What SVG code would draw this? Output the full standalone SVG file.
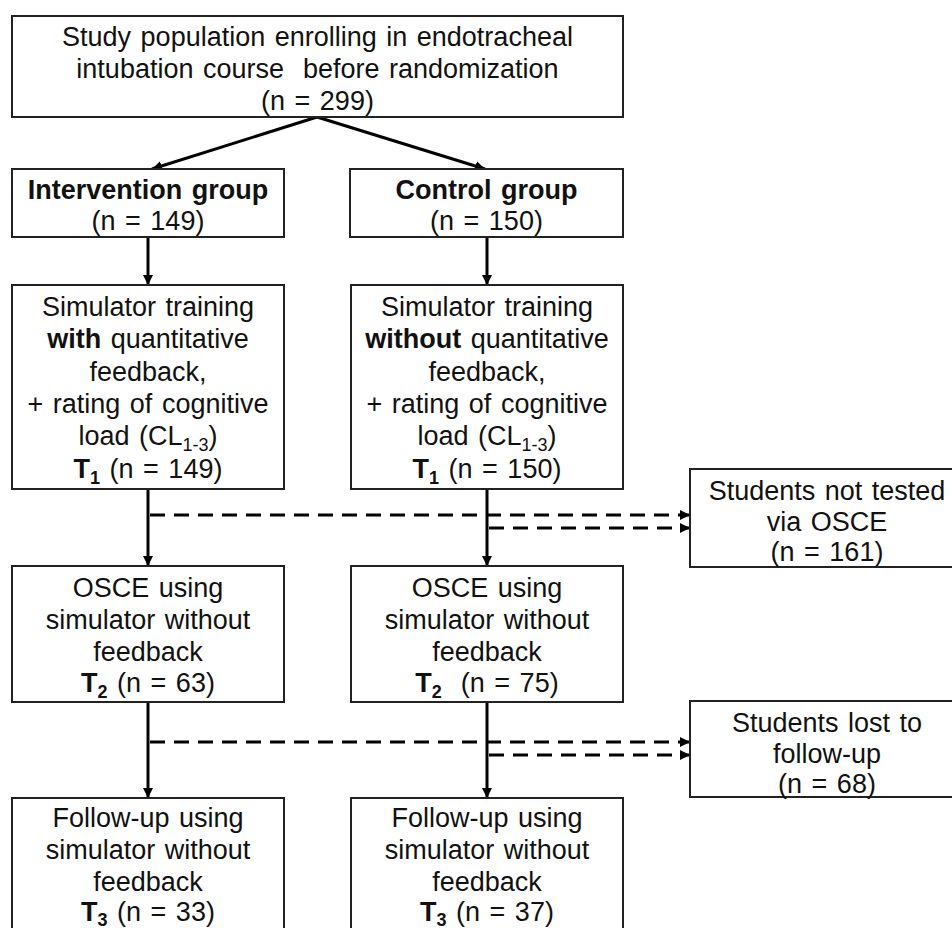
<svg xmlns="http://www.w3.org/2000/svg" width="952" height="928" viewBox="0 0 952 928">
<defs>
<marker id="ah" viewBox="0 0 10 10" refX="10" refY="5" markerWidth="10" markerHeight="10" markerUnits="userSpaceOnUse" orient="auto">
<path d="M0,0 L10,5 L0,10 z" fill="#000"/>
</marker>
<style>
.box{fill:#fff;stroke:#222;stroke-width:2}
text{font-family:"Liberation Sans",Arial,sans-serif;font-size:27px;word-spacing:2px;fill:#111;text-anchor:middle}
.b{font-weight:bold}
.sub{font-size:18px}
.solid{stroke:#000;stroke-width:3;fill:none}
.dash{stroke:#000;stroke-width:3;fill:none;stroke-dasharray:15 9}
</style>
</defs>
<rect width="952" height="928" fill="#fff"/>

<g id="connectors">
<line class="solid" x1="317" y1="117" x2="152" y2="169" marker-end="url(#ah)"/>
<line class="solid" x1="317" y1="117" x2="485" y2="169" marker-end="url(#ah)"/>
<line class="solid" x1="148" y1="237" x2="148" y2="285" marker-end="url(#ah)"/>
<line class="solid" x1="487" y1="237" x2="487" y2="285" marker-end="url(#ah)"/>
<line class="solid" x1="148" y1="489" x2="148" y2="566" marker-end="url(#ah)"/>
<line class="solid" x1="487" y1="489" x2="487" y2="566" marker-end="url(#ah)"/>
<line class="solid" x1="148" y1="702" x2="148" y2="798" marker-end="url(#ah)"/>
<line class="solid" x1="487" y1="702" x2="487" y2="798" marker-end="url(#ah)"/>
<line class="dash" x1="150" y1="515" x2="690" y2="515" marker-end="url(#ah)"/>
<line class="dash" x1="489" y1="528" x2="690" y2="528" marker-end="url(#ah)"/>
<line class="dash" x1="150" y1="742" x2="690" y2="742" marker-end="url(#ah)"/>
<line class="dash" x1="489" y1="755" x2="690" y2="755" marker-end="url(#ah)"/>
</g>

<g id="population">
<rect class="box" x="12" y="16" width="611" height="101"/>
<text x="317.5" y="46">Study population enrolling in endotracheal</text>
<text x="317.5" y="78" style="white-space:pre">intubation course  before randomization</text>
<text x="317.5" y="110">(n = 299)</text>
</g>

<g id="intervention">
<rect class="box" x="12" y="169" width="272" height="68"/>
<text x="148" y="199" class="b">Intervention group</text>
<text x="148" y="230">(n = 149)</text>
</g>

<g id="control">
<rect class="box" x="350" y="169" width="273" height="68"/>
<text x="486.5" y="199" class="b">Control group</text>
<text x="486.5" y="230">(n = 150)</text>
</g>

<g id="training-with">
<rect class="box" x="12" y="285" width="272" height="204"/>
<text x="148" y="316">Simulator training</text>
<text x="148" y="348"><tspan class="b">with</tspan> quantitative</text>
<text x="148" y="381">feedback,</text>
<text x="148" y="413">+ rating of cognitive</text>
<text x="148" y="445">load (CL<tspan class="sub" dy="6">1-3</tspan><tspan dy="-6">)</tspan></text>
<text x="148" y="478"><tspan class="b">T</tspan><tspan class="b sub" dy="6">1</tspan><tspan dy="-6"> (n = 149)</tspan></text>
</g>

<g id="training-without">
<rect class="box" x="351" y="285" width="272" height="204"/>
<text x="487" y="316">Simulator training</text>
<text x="487" y="348"><tspan class="b">without</tspan> quantitative</text>
<text x="487" y="381">feedback,</text>
<text x="487" y="413">+ rating of cognitive</text>
<text x="487" y="445">load (CL<tspan class="sub" dy="6">1-3</tspan><tspan dy="-6">)</tspan></text>
<text x="487" y="478"><tspan class="b">T</tspan><tspan class="b sub" dy="6">1</tspan><tspan dy="-6"> (n = 150)</tspan></text>
</g>

<g id="not-tested">
<rect class="box" x="690" y="469" width="275" height="98"/>
<text x="827" y="500">Students not tested</text>
<text x="827" y="531">via OSCE</text>
<text x="827" y="561">(n = 161)</text>
</g>

<g id="osce-intervention">
<rect class="box" x="12" y="566" width="272" height="136"/>
<text x="148" y="597">OSCE using</text>
<text x="148" y="629">simulator without</text>
<text x="148" y="661">feedback</text>
<text x="148" y="692"><tspan class="b">T</tspan><tspan class="b sub" dy="6">2</tspan><tspan dy="-6"> (n = 63)</tspan></text>
</g>

<g id="osce-control">
<rect class="box" x="351" y="566" width="272" height="136"/>
<text x="487" y="597">OSCE using</text>
<text x="487" y="629">simulator without</text>
<text x="487" y="661">feedback</text>
<text x="487" y="692" style="white-space:pre"><tspan class="b">T</tspan><tspan class="b sub" dy="6">2</tspan><tspan dy="-6">  (n = 75)</tspan></text>
</g>

<g id="lost">
<rect class="box" x="690" y="701" width="275" height="96"/>
<text x="827" y="732">Students lost to</text>
<text x="827" y="763">follow-up</text>
<text x="827" y="793">(n = 68)</text>
</g>

<g id="followup-intervention">
<rect class="box" x="12" y="798" width="272" height="150"/>
<text x="148" y="827">Follow-up using</text>
<text x="148" y="859">simulator without</text>
<text x="148" y="891">feedback</text>
<text x="148" y="921"><tspan class="b">T</tspan><tspan class="b sub" dy="5">3</tspan><tspan dy="-5"> (n = 33)</tspan></text>
</g>

<g id="followup-control">
<rect class="box" x="351" y="798" width="272" height="150"/>
<text x="487" y="827">Follow-up using</text>
<text x="487" y="859">simulator without</text>
<text x="487" y="891">feedback</text>
<text x="487" y="921"><tspan class="b">T</tspan><tspan class="b sub" dy="5">3</tspan><tspan dy="-5"> (n = 37)</tspan></text>
</g>
</svg>
